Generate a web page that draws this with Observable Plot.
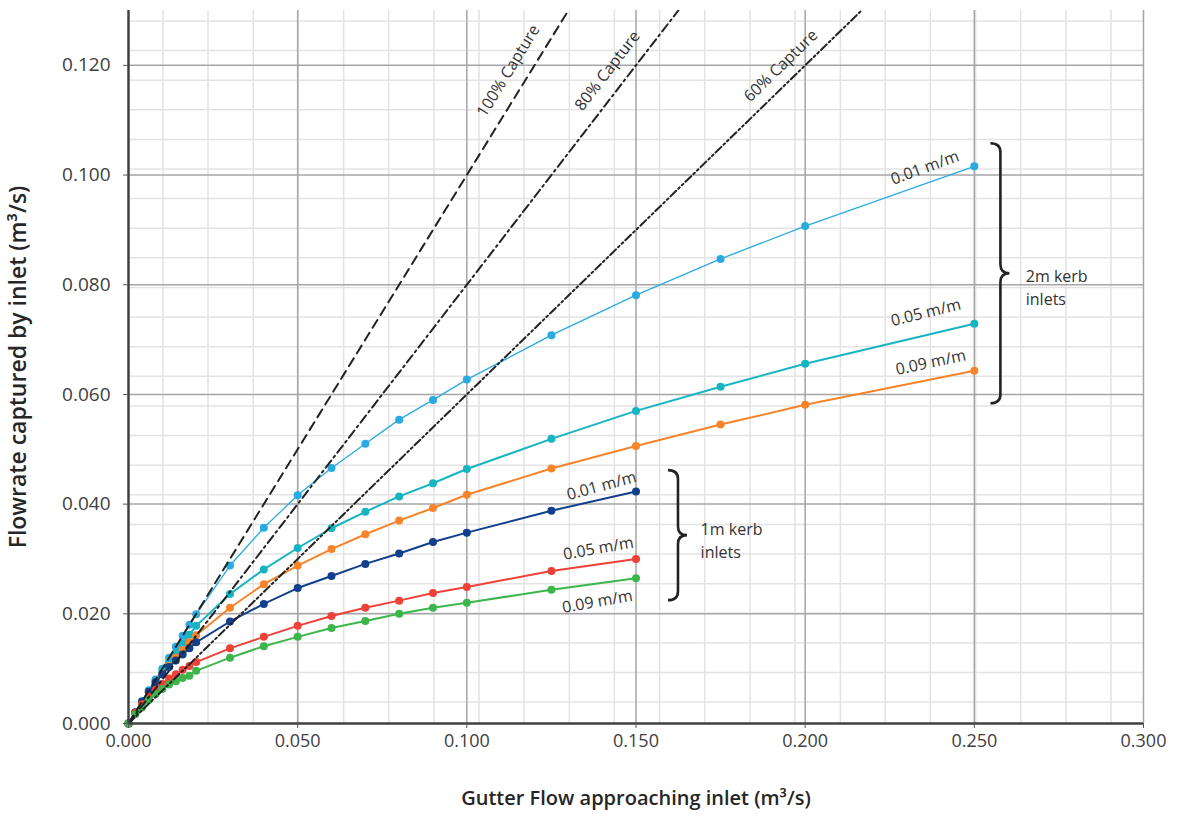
<!DOCTYPE html>
<html><head><meta charset="utf-8">
<script src="https://cdn.jsdelivr.net/npm/d3@7"></script>
<script src="https://cdn.jsdelivr.net/npm/@observablehq/plot@0.6"></script>
<style>body{margin:0;background:#fff;font-family:"Open Sans",sans-serif}</style>
</head><body><div id="chart"></div>
<script>
// ---- data ----
const gutterFlow1m = [0,0.002,0.004,0.006,0.008,0.010,0.012,0.014,0.016,0.018,0.020,0.03,0.04,0.05,0.06,0.07,0.08,0.09,0.10,0.125,0.15];
const gutterFlow2m = [0,0.002,0.004,0.006,0.008,0.010,0.012,0.014,0.016,0.018,0.020,0.03,0.04,0.05,0.06,0.07,0.08,0.09,0.10,0.125,0.15,0.175,0.20,0.25];

const captured2m_001 = [0,0.002,0.004,0.006,0.008,0.010,0.012,0.014,0.016,0.018,0.0199,0.0288,0.0357,0.0416,0.0466,0.0510,0.0554,0.0590,0.0627,0.0708,0.0781,0.0847,0.0907,0.1016];
const captured2m_005 = [0,0.002,0.004,0.006,0.0078,0.0096,0.0113,0.0130,0.0146,0.0162,0.0178,0.0236,0.0281,0.0320,0.0356,0.0386,0.0414,0.0438,0.0464,0.0519,0.0570,0.0614,0.0656,0.0729];
const captured2m_009 = [0,0.002,0.0039,0.0057,0.0074,0.0090,0.0105,0.0120,0.0134,0.0148,0.0161,0.0211,0.0254,0.0288,0.0318,0.0345,0.0370,0.0393,0.0417,0.0465,0.0506,0.0545,0.0581,0.0643];
const captured1m_001 = [0,0.002,0.004,0.0058,0.0075,0.0090,0.0103,0.0115,0.0126,0.0137,0.0148,0.0186,0.0218,0.0247,0.0269,0.0291,0.0310,0.0331,0.0348,0.0388,0.0423];
const captured1m_005 = [0,0.0019,0.0035,0.0049,0.0061,0.0072,0.0082,0.0090,0.0098,0.0105,0.0112,0.0137,0.0158,0.0178,0.0196,0.0211,0.0224,0.0238,0.0249,0.0278,0.0300];
const captured1m_009 = [0,0.0017,0.0029,0.0043,0.0054,0.0063,0.0071,0.0077,0.0083,0.0087,0.0096,0.0120,0.0141,0.0158,0.0174,0.0187,0.0200,0.0211,0.0220,0.0244,0.0265];

const seriesNames = ["2m 0.01 m/m","2m 0.05 m/m","2m 0.09 m/m","1m 0.01 m/m","1m 0.05 m/m","1m 0.09 m/m"];
const seriesLabels = ["0.01 m/m","0.05 m/m","0.09 m/m","0.01 m/m","0.05 m/m","0.09 m/m"];
// label anchor points (data units) and text angle
const labelX = [0.2354,0.2357,0.2371,0.1398,0.1389,0.1386];
const labelY = [0.1013,0.0749,0.0658,0.0433,0.0319,0.0222];
const labelAngle = [-20,-14,-12,-15,-10,-10];

const captureRatios = [1.0, 0.8, 0.6];
const captureLabels = ["100% Capture","80% Capture","60% Capture"];
const captureLabelX = [0.1123,0.1416,0.1928];
const captureLabelY = [0.1190,0.1190,0.1199];

const bracketText = ["1m kerb\ninlets","2m kerb\ninlets"];
const bracketX = [0.1596,0.2549];
const bracketTop = [0.0461,0.1057];
const bracketBottom = [0.0224,0.0583];
const bracketTextX = [0.1691,0.2652];
const bracketTextY = [0.0336,0.0798];

const xTicks = [0,0.05,0.10,0.15,0.20,0.25,0.30];
const yTicks = [0,0.02,0.04,0.06,0.08,0.10,0.12];
const xMinor = [0.0102,0.0235,0.0369,0.0502,0.0636,0.0769,0.0903,0.1036,0.1169,0.1303,0.1436,0.1570,0.1703,0.1837,0.1970,0.2104,0.2237,0.2370,0.2504,0.2637,0.2771,0.2904];
const yMinor = [0.0039,0.0093,0.0147,0.0201,0.0255,0.0309,0.0363,0.0417,0.0471,0.0525,0.0579,0.0633,0.0687,0.0741,0.0795,0.0849,0.0903,0.0957,0.1011,0.1065,0.1119,0.1173,0.1227,0.1281];

const xTitle = "Gutter Flow approaching inlet (m³/s)";
const yTitle = "Flowrate captured by inlet (m³/s)";

// ---- styles ----
const colors = ["#29abe2","#17b5c1","#f7842a","#123f8c","#ee4137","#3cb54a"];
const widths = [1.3,2,2,2,2,2];
const dashes = ["9,6","9,4,2,4","8,3,2,3,2,3"];

// ---- build tables ----
const xsBy = [gutterFlow2m,gutterFlow2m,gutterFlow2m,gutterFlow1m,gutterFlow1m,gutterFlow1m];
const ysBy = [captured2m_001,captured2m_005,captured2m_009,captured1m_001,captured1m_005,captured1m_009];
const seriesData = seriesNames.map((name,i)=> xsBy[i].map((x,j)=>({name, x, y: ysBy[i][j]})));
const yMax = 0.13;
const captureData = captureRatios.map((r,i)=>[{x:0,y:0,k:i},{x:yMax/r,y:yMax,k:i}]);
const labelData = seriesLabels.map((t,i)=>({t,x:labelX[i],y:labelY[i],a:labelAngle[i]}));
const captureLabelData = captureLabels.map((t,i)=>({t,x:captureLabelX[i],y:captureLabelY[i],a:-Math.atan(captureRatios[i]*(712.8/0.13)/(1014/0.3))*180/Math.PI}));
const bracketTextData = bracketText.map((t,i)=>({t,x:bracketTextX[i],y:bracketTextY[i]}));

function brace(xv, y1v, y2v){
  return (index, scales) => {
    const x0 = scales.x(xv), ya = scales.y(y1v), yb = scales.y(y2v);
    const w = 19, xm = x0 + 10, r = 9, ym = (ya+yb)/2;
    const d = `M${x0},${ya} Q${xm},${ya} ${xm},${ya+r} L${xm},${ym-r} Q${xm},${ym} ${x0+w},${ym} Q${xm},${ym} ${xm},${ym+r} L${xm},${yb-r} Q${xm},${yb} ${x0},${yb}`;
    return d3.create("svg:path").attr("d", d).attr("fill","none").attr("stroke","#222").attr("stroke-width",2.6).node();
  };
}

const marks = [
  Plot.ruleX(xMinor, {stroke:"#e3e3e3", strokeWidth:1.5}),
  Plot.ruleY(yMinor, {stroke:"#e3e3e3", strokeWidth:1.5}),
  Plot.ruleX(xTicks.slice(1), {stroke:"#a5a5a5", strokeWidth:1.5}),
  Plot.ruleY(yTicks.slice(1), {stroke:"#a5a5a5", strokeWidth:1.5}),
];
seriesData.forEach((d,i)=>{
  marks.push(Plot.line(d, {x:"x", y:"y", stroke:colors[i], strokeWidth:widths[i]}));
  marks.push(Plot.dot(d, {x:"x", y:"y", fill:colors[i], r:4}));
});
captureData.forEach((d,i)=>{
  marks.push(Plot.line(d, {x:"x", y:"y", stroke:"#222", strokeWidth:2, strokeDasharray:dashes[i], clip:true}));
});
marks.push(
  Plot.ruleX([0], {stroke:"#404040", strokeWidth:2.5}),
  Plot.ruleY([0], {stroke:"#404040", strokeWidth:2.5}),
  Plot.axisX(xTicks, {tickFormat: d=>d.toFixed(3), tickSize:5, tickPadding:6, label:null, fontSize:18, stroke:"#555", fill:"#404040"}),
  Plot.axisY(yTicks, {tickFormat: d=>d.toFixed(3), tickSize:5, tickPadding:13, label:null, fontSize:19, stroke:"#555", fill:"#404040"}),
  Plot.text([xTitle], {frameAnchor:"bottom", dy:81, fontSize:20, fontWeight:600, fill:"#262626"}),
  Plot.text([yTitle], {frameAnchor:"left", textAnchor:"middle", dx:-110, rotate:-90, fontSize:23, fontWeight:600, fill:"#262626"}),
  Plot.text(labelData, {x:"x", y:"y", text:"t", rotate:"a", fontSize:16, fill:"#333"}),
  Plot.text(captureLabelData, {x:"x", y:"y", text:"t", rotate:"a", fontSize:16, fill:"#333"}),
  Plot.text(bracketTextData, {x:"x", y:"y", text:"t", textAnchor:"start", fontSize:16, lineHeight:1.45, fill:"#333"}),
  brace(bracketX[0], bracketTop[0], bracketBottom[0]),
  brace(bracketX[1], bracketTop[1], bracketBottom[1])
);

const chart = Plot.plot({
  width:1177, height:816,
  marginLeft:128, marginRight:34, marginTop:10, marginBottom:93,
  x:{domain:[0,0.3]}, y:{domain:[0,yMax]},
  style:{fontFamily:"Open Sans", background:"#fff", color:"#404040"},
  marks
});
document.getElementById("chart").appendChild(chart);
</script></body></html>
